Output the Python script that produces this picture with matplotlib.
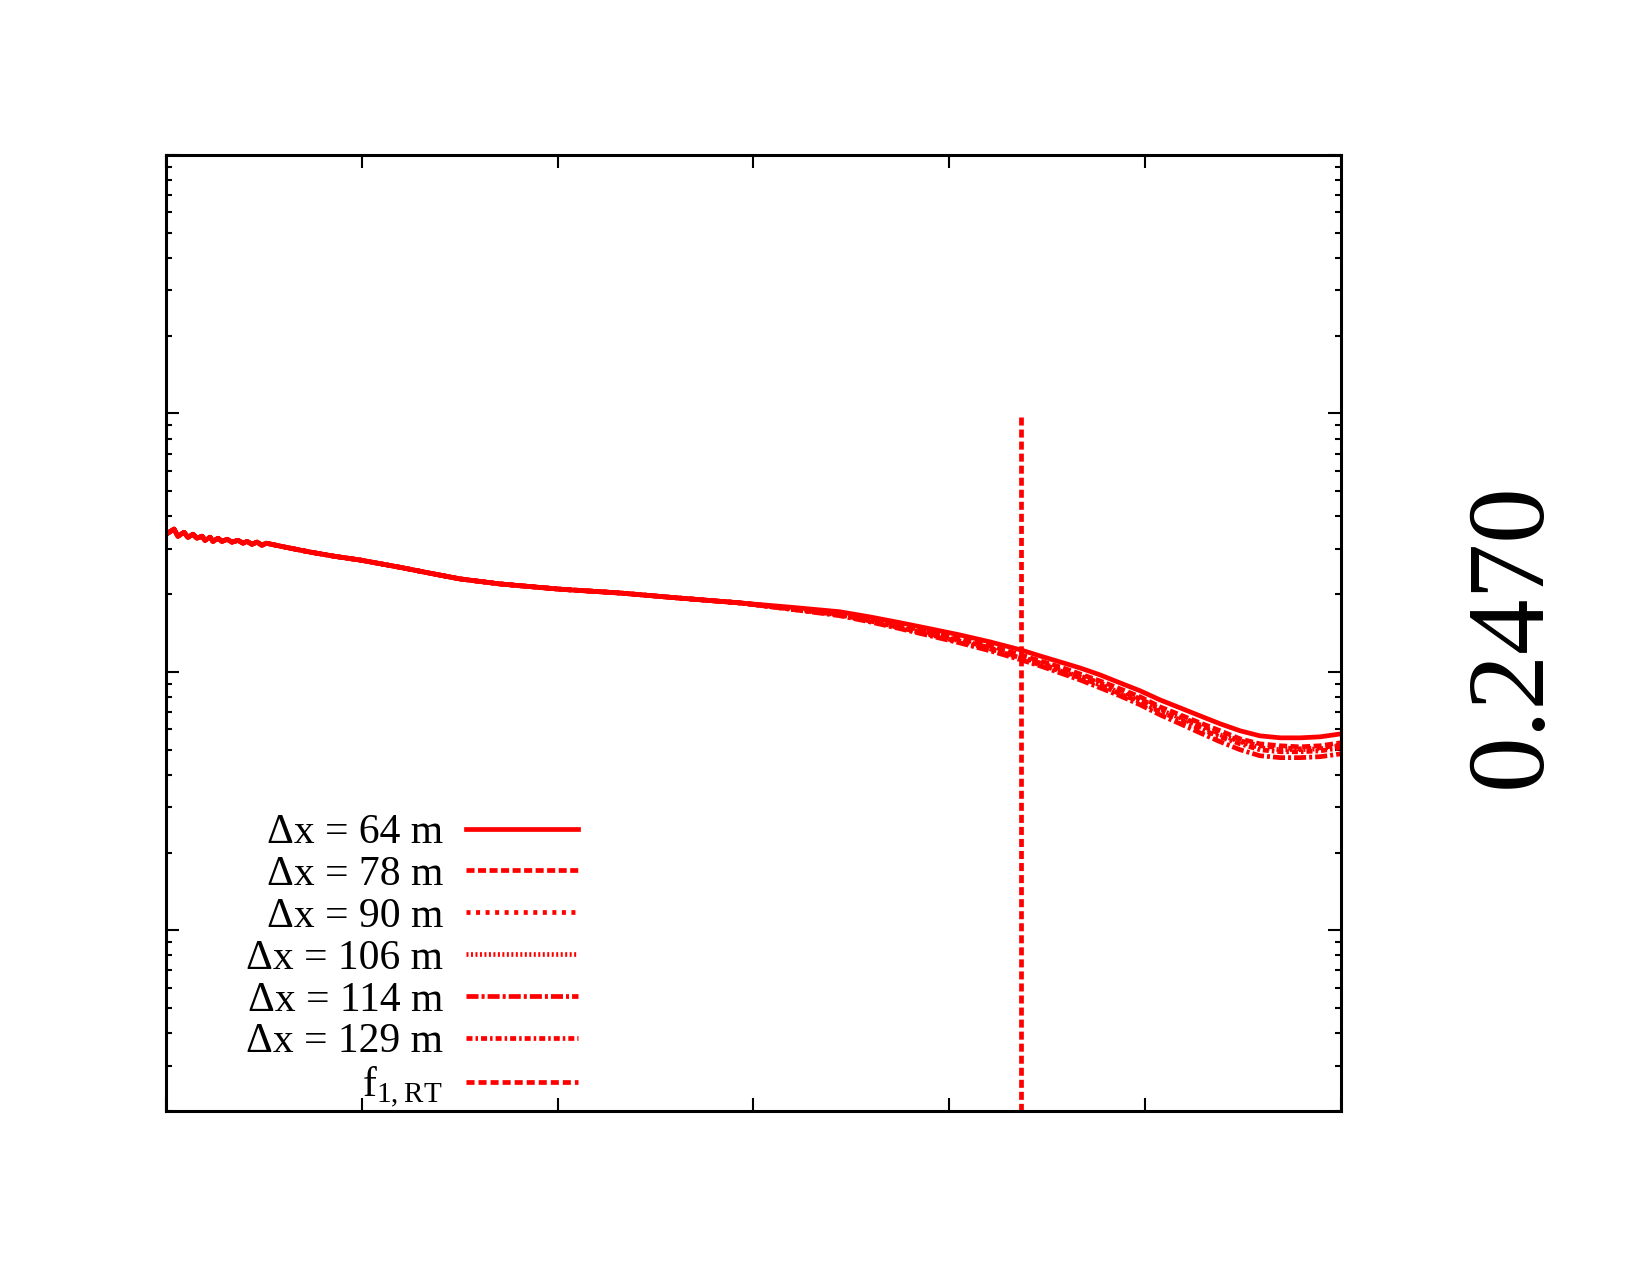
import numpy as np
import matplotlib
matplotlib.use('Agg')
import matplotlib.pyplot as plt
from matplotlib.ticker import LogLocator, NullFormatter, MultipleLocator, NullLocator

plt.rcParams['font.family'] = ['Liberation Serif', 'DejaVu Serif']
plt.rcParams['mathtext.fontset'] = 'custom'
plt.rcParams['mathtext.rm'] = 'Liberation Serif'

# shared early part of every curve (the runs coincide there)
x_early = [0.0, 0.041, 0.061, 0.092, 0.112, 0.138, 0.158, 0.184, 0.199, 0.225,
           0.240, 0.266, 0.286, 0.312, 0.337, 0.368, 0.393, 0.414, 0.439, 0.465,
           0.490, 0.511, 0.608, 0.735, 0.863, 0.991, 1.195, 1.348, 1.502, 1.706,
           2.012, 2.319, 2.625]
y_early = [34.1, 35.7, 33.5, 34.7, 33.2, 34.1, 32.9, 33.5, 32.3, 33.2,
           32.0, 32.9, 32.0, 32.6, 31.8, 32.3, 31.5, 32.0, 31.2, 31.8,
           30.9, 31.5, 30.4, 29.1, 28.0, 27.1, 25.4, 24.1, 22.9, 21.9,
           20.9, 20.2, 19.3]

# later part where the resolutions separate
x_late = [2.93, 3.19, 3.44, 3.60, 3.75, 3.90, 4.055, 4.21, 4.367, 4.464,
          4.566, 4.668, 4.770, 4.872, 4.975, 5.077, 5.179, 5.281, 5.383, 5.485,
          5.586, 5.690, 5.792, 5.894, 6.0]
y_64 = [18.5, 17.8, 17.1, 16.3, 15.5, 14.7, 13.9, 13.06, 12.16, 11.53,
        10.93, 10.36, 9.74, 9.07, 8.45, 7.79, 7.26, 6.76, 6.30, 5.92,
        5.66, 5.56, 5.56, 5.61, 5.76]
y_78 = [18.5, 17.64, 16.80, 16.01, 15.09, 14.31, 13.41, 12.60, 11.63, 11.03,
        10.45, 9.82, 9.23, 8.60, 8.01, 7.32, 6.82, 6.35, 5.92, 5.51,
        5.27, 5.18, 5.13, 5.18, 5.32]
y_90 = [18.5, 17.64, 16.65, 15.87, 14.96, 14.19, 13.30, 12.38, 11.43, 10.83,
        10.27, 9.65, 9.07, 8.45, 7.87, 7.19, 6.70, 6.24, 5.76, 5.42,
        5.18, 5.09, 5.04, 5.09, 5.22]
y_106 = [18.5, 17.49, 16.65, 15.73, 14.83, 14.06, 13.18, 12.27, 11.32, 10.74,
         10.18, 9.56, 8.99, 8.30, 7.73, 7.13, 6.64, 6.13, 5.71, 5.37,
         5.09, 5.00, 5.00, 5.04, 5.18]
y_114 = [18.5, 17.49, 16.50, 15.59, 14.69, 13.81, 12.94, 12.06, 11.13, 10.55,
         9.91, 9.31, 8.68, 8.08, 7.46, 6.82, 6.30, 5.81, 5.37, 5.00,
         4.74, 4.66, 4.66, 4.70, 4.82]
y_129 = [18.5, 17.49, 16.65, 15.73, 14.83, 13.94, 13.06, 12.27, 11.32, 10.64,
         10.09, 9.48, 8.91, 8.22, 7.66, 7.00, 6.53, 6.02, 5.61, 5.27,
         5.00, 4.91, 4.91, 4.95, 5.09]

labels = ['\u0394x = 64 m', '\u0394x = 78 m', '\u0394x = 90 m',
          '\u0394x = 106 m', '\u0394x = 114 m', '\u0394x = 129 m']

# f_1,RT marker line (drawn top-down so the dash starts at the top)
f1rt_x = 4.365
f1rt_y = [97.0, 0.1]

lw = 3.4
styles = ['-', (0, (1.7, 0.74)), (0, (0.85, 1.17)), (0, (0.42, 0.53)),
          (0, (2.55, 0.64, 0.64, 0.64)), (0, (1.27, 0.64, 0.53, 0.64))]
series = [y_64, y_78, y_90, y_106, y_114, y_129]

fig = plt.figure(figsize=(16.5, 12.75), dpi=100)
ax = fig.add_axes([0.1006, 0.1286, 0.7121, 0.7498])

for yl, ls, lab in zip(series, styles, labels):
    xs = np.concatenate([x_early, x_late])
    ys = np.concatenate([y_early, yl])
    ax.plot(xs, ys, color='red', linestyle=ls, linewidth=lw, label=lab)

ax.plot([f1rt_x, f1rt_x], f1rt_y, color='red', linestyle=(0, (1.7, 0.85)),
        linewidth=lw, label='f$_{\\mathrm{1,RT}}$')

ax.set_yscale('log')
ax.set_xlim(0, 6)
ax.set_ylim(0.2, 1000)

ax.xaxis.set_major_locator(MultipleLocator(1))
ax.xaxis.set_minor_locator(NullLocator())
ax.yaxis.set_major_locator(LogLocator(base=10, numticks=20))
ax.yaxis.set_minor_locator(LogLocator(base=10, subs=np.arange(2, 10), numticks=20))
ax.yaxis.set_minor_formatter(NullFormatter())

ax.tick_params(which='both', direction='in', top=True, right=True,
               labelbottom=False, labelleft=False)
ax.tick_params(which='major', length=9.5, width=1.5)
ax.tick_params(which='minor', length=4.5, width=1.5)
for sp in ax.spines.values():
    sp.set_linewidth(2.2)

leg = ax.legend(loc='upper right', bbox_to_anchor=(0.351, 0.311),
                markerfirst=False, frameon=False, fontsize=30,
                handlelength=2.7, handletextpad=0.55, labelspacing=0.08,
                borderaxespad=0, borderpad=0)

fig.text(0.917, 0.502, '0.2470', rotation=90, fontsize=80,
         ha='center', va='center')

fig.savefig('out.png', dpi=100)
